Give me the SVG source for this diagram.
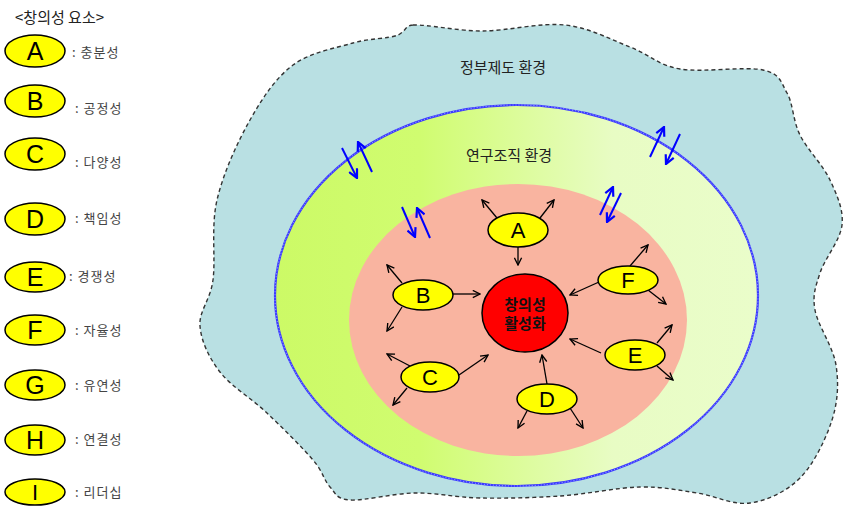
<svg xmlns="http://www.w3.org/2000/svg" width="845" height="506" viewBox="0 0 845 506">
<style>
.yel{fill:#ffff00;stroke:#000;stroke-width:1.5}
.let{font-family:"Liberation Sans",Arial,sans-serif;fill:#000;text-anchor:middle}
.lg{font-family:"Noto Sans CJK KR","Noto Sans",sans-serif;font-size:13px;fill:#444;letter-spacing:1px}
.env{font-family:"Noto Sans CJK KR","Noto Sans",sans-serif;font-size:15px;fill:#222;text-anchor:middle}
.blk{stroke:#000;stroke-width:1.3;fill:none;marker-end:url(#ah)}
.blu{stroke:#0000ff;stroke-width:2;fill:none;marker-end:url(#bh)}
</style>
<defs>
<marker id="ah" viewBox="0 0 10 10" refX="9" refY="5" markerWidth="9" markerHeight="9" markerUnits="userSpaceOnUse" orient="auto"><path d="M1,1 L9,5 L1,9" fill="none" stroke="#000" stroke-width="1.5"/></marker>
<marker id="bh" viewBox="0 0 10 10" refX="9" refY="5" markerWidth="11" markerHeight="11" markerUnits="userSpaceOnUse" orient="auto"><path d="M1,1 L9,5 L1,9" fill="none" stroke="#0000ff" stroke-width="2"/></marker>
<linearGradient id="gg" x1="0" y1="0" x2="1" y2="0">
<stop offset="0" stop-color="#ccfa66"/>
<stop offset="0.3" stop-color="#d0fc70"/>
<stop offset="0.7" stop-color="#e8fcc4"/>
<stop offset="1" stop-color="#eafdca"/>
</linearGradient>
</defs>
<rect width="845" height="506" fill="#fff"/>

<g id="legend">
<text x="15" y="23" font-family="'Noto Sans CJK KR','Noto Sans',sans-serif" font-size="15" fill="#222">&lt;창의성 요소&gt;</text>
<g id="lg-A"><ellipse class="yel" cx="35" cy="51" rx="30" ry="16"/><text class="let" x="35" y="60" font-size="25">A</text><text class="lg" x="72" y="57">: 충분성</text></g>
<g id="lg-B"><ellipse class="yel" cx="35" cy="101" rx="30" ry="16"/><text class="let" x="35" y="110" font-size="25">B</text><text class="lg" x="75" y="113">: 공정성</text></g>
<g id="lg-C"><ellipse class="yel" cx="35" cy="154" rx="30" ry="16"/><text class="let" x="35" y="163" font-size="25">C</text><text class="lg" x="75" y="167">: 다양성</text></g>
<g id="lg-D"><ellipse class="yel" cx="35" cy="219" rx="30" ry="16"/><text class="let" x="35" y="228" font-size="25">D</text><text class="lg" x="75" y="223">: 책임성</text></g>
<g id="lg-E"><ellipse class="yel" cx="35" cy="277" rx="30" ry="15"/><text class="let" x="35" y="286" font-size="25">E</text><text class="lg" x="69" y="281">: 경쟁성</text></g>
<g id="lg-F"><ellipse class="yel" cx="35" cy="330" rx="30" ry="15"/><text class="let" x="35" y="339" font-size="25">F</text><text class="lg" x="75" y="335">: 자율성</text></g>
<g id="lg-G"><ellipse class="yel" cx="35" cy="385" rx="30" ry="15"/><text class="let" x="35" y="394" font-size="25">G</text><text class="lg" x="75" y="390">: 유연성</text></g>
<g id="lg-H"><ellipse class="yel" cx="35" cy="440" rx="30" ry="15"/><text class="let" x="35" y="449" font-size="25">H</text><text class="lg" x="75" y="444">: 연결성</text></g>
<g id="lg-I"><ellipse class="yel" cx="35" cy="492" rx="30" ry="13"/><text class="let" x="35" y="500" font-size="22">I</text><text class="lg" x="75" y="497">: 리더십</text></g>
</g>

<g id="gov-env">
<path d="M413,25 C427.5,24.3 456.7,31 482,31 C507.3,31 540.3,22.3 565,25 C589.7,27.7 610.8,39.7 630,47 C649.2,54.3 657.8,65.2 680,69 C702.2,72.8 745.2,66 763,70 C780.8,74 780.8,82.2 787,93 C793.2,103.8 792.8,120.5 800,135 C807.2,149.5 823,165 830,180 C837,195 843.7,209.5 842,225 C840.3,240.5 824.5,258.8 820,273 C815.5,287.2 812.3,294.7 815,310 C817.7,325.3 833.2,346.7 836,365 C838.8,383.3 838,401.2 832,420 C826,438.8 813.7,464.2 800,478 C786.3,491.8 767.2,500.5 750,503 C732.8,505.5 715.3,495.7 697,493 C678.7,490.3 662.8,486.5 640,487 C617.2,487.5 586.7,494.2 560,496 C533.3,497.8 504.2,498.5 480,498 C455.8,497.5 436.7,492.7 415,493 C393.3,493.3 364.2,501 350,500 C335.8,499 336.2,493.7 330,487 C323.8,480.3 323.5,472.3 313,460 C302.5,447.7 282.5,427.7 267,413 C251.5,398.3 231.2,386.5 220,372 C208.8,357.5 201.2,341.3 200,326 C198.8,310.7 210.2,301 213,280 C215.8,259 210.8,226.7 217,200 C223.2,173.3 237.3,142.5 250,120 C262.7,97.5 275.8,77.8 293,65 C310.2,52.2 336,48 353,43 C370,38 388,39 398,35 C405,32 406,25 413,25 Z" fill="#b9e0e3" stroke="#333" stroke-width="1.4" stroke-dasharray="4 3"/>
<text class="env" x="503" y="73">정부제도 환경</text>
</g>

<g id="org-env">
<ellipse cx="516.5" cy="295.5" rx="241.5" ry="190.5" fill="url(#gg)" stroke="#3a3aff" stroke-width="2.2"/>
<ellipse cx="516.5" cy="295.5" rx="241.5" ry="190.5" fill="none" stroke="#fff" stroke-width="0.8" stroke-dasharray="1 2" opacity="0.7"/>
<text class="env" x="509" y="161">연구조직 환경</text>
</g>

<g id="core-env">
<ellipse cx="518" cy="320" rx="169" ry="136" fill="#f9b4a0"/>
</g>

<g id="center">
<ellipse cx="525" cy="313" rx="43" ry="39" fill="#ff0000" stroke="#000" stroke-width="1.5"/>
<text x="525" y="310" font-family="'Noto Sans CJK KR','Noto Sans',sans-serif" font-size="15" font-weight="bold" fill="#111" text-anchor="middle">창의성</text>
<text x="525" y="329" font-family="'Noto Sans CJK KR','Noto Sans',sans-serif" font-size="15" font-weight="bold" fill="#111" text-anchor="middle">활성화</text>
</g>

<g id="connectors">
<line class="blk" x1="518" y1="247" x2="518" y2="265"/>
<line class="blk" x1="497" y1="218" x2="482" y2="200"/>
<line class="blk" x1="540" y1="218" x2="554" y2="200"/>
<line class="blk" x1="452" y1="294" x2="480" y2="294"/>
<line class="blk" x1="402" y1="283" x2="387" y2="265"/>
<line class="blk" x1="402" y1="307" x2="387" y2="331"/>
<line class="blk" x1="410" y1="366" x2="387" y2="354"/>
<line class="blk" x1="407" y1="388" x2="393" y2="405"/>
<line class="blk" x1="459" y1="375" x2="488" y2="355"/>
<line class="blk" x1="547" y1="384" x2="542" y2="355"/>
<line class="blk" x1="527" y1="411" x2="518" y2="428"/>
<line class="blk" x1="570" y1="408" x2="583" y2="428"/>
<line class="blk" x1="601" y1="353" x2="570" y2="339"/>
<line class="blk" x1="657" y1="343" x2="672" y2="325"/>
<line class="blk" x1="657" y1="366" x2="673" y2="380"/>
<line class="blk" x1="599" y1="282" x2="570" y2="295"/>
<line class="blk" x1="630" y1="266" x2="648" y2="245"/>
<line class="blk" x1="648" y1="290" x2="666" y2="304"/>
<line class="blu" x1="342" y1="148" x2="357" y2="178"/>
<line class="blu" x1="372" y1="172" x2="358" y2="142"/>
<line class="blu" x1="402" y1="207" x2="415" y2="237"/>
<line class="blu" x1="430" y1="238" x2="417" y2="208"/>
<line class="blu" x1="650" y1="157" x2="664" y2="127"/>
<line class="blu" x1="680" y1="134" x2="666" y2="164"/>
<line class="blu" x1="600" y1="215" x2="613" y2="187"/>
<line class="blu" x1="621" y1="193" x2="607" y2="222"/>
</g>

<g id="node-A"><ellipse class="yel" cx="518" cy="230" rx="30" ry="17"/><text class="let" x="518" y="238" font-size="22">A</text></g>
<g id="node-B"><ellipse class="yel" cx="423" cy="295" rx="30" ry="15"/><text class="let" x="423" y="303" font-size="22">B</text></g>
<g id="node-C"><ellipse class="yel" cx="430" cy="377" rx="29" ry="15"/><text class="let" x="430" y="385" font-size="22">C</text></g>
<g id="node-D"><ellipse class="yel" cx="547" cy="399" rx="30" ry="15"/><text class="let" x="547" y="407" font-size="22">D</text></g>
<g id="node-E"><ellipse class="yel" cx="635" cy="355" rx="30" ry="15"/><text class="let" x="635" y="363" font-size="22">E</text></g>
<g id="node-F"><ellipse class="yel" cx="628" cy="280" rx="30" ry="14"/><text class="let" x="628" y="288" font-size="22">F</text></g>
</svg>
